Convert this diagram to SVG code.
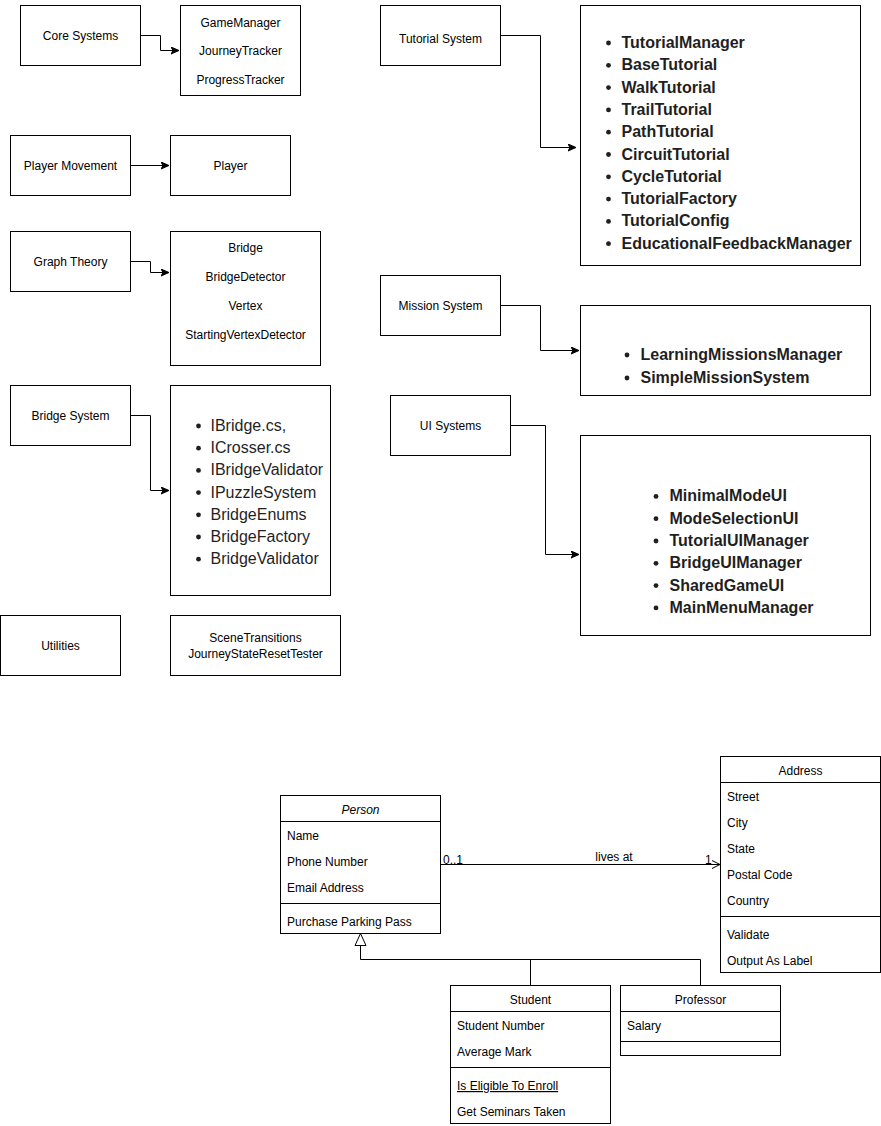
<svg xmlns="http://www.w3.org/2000/svg" width="881" height="1126" viewBox="0 0 881 1126">
<style>
  .box { fill: #ffffff; stroke: #000000; stroke-width: 1; }
  .ln { fill: none; stroke: #000000; stroke-width: 1; }
  .t { font-family: "Liberation Sans", Arial, Helvetica, sans-serif; font-size: 12px; fill: #000000; }
  .c { text-anchor: middle; }
  .li { font-family: "Liberation Sans", Arial, Helvetica, sans-serif; font-size: 16px; fill: #1f1f1f; }
  .lb { font-family: "Liberation Sans", Arial, Helvetica, sans-serif; font-size: 16px; font-weight: bold; fill: #1f1f1f; }
  .bul { fill: #1f1f1f; }
</style>
<defs>
  <marker id="arr" markerWidth="10" markerHeight="10" refX="8" refY="4" orient="auto" markerUnits="userSpaceOnUse">
    <path d="M0,0.5 L8,4 L0,7.5 L2,4 Z" fill="#000" stroke="#000" stroke-width="1"/>
  </marker>
  <marker id="open" markerWidth="12" markerHeight="12" refX="9" refY="5" orient="auto" markerUnits="userSpaceOnUse">
    <path d="M1,1 L9,5 L1,9" fill="none" stroke="#000" stroke-width="1"/>
  </marker>
</defs>

<g id="connectors">
  <path class="ln" d="M140.5,35.5 H160.5 V50.5 H179" marker-end="url(#arr)"/>
  <path class="ln" d="M130.5,165.5 H169" marker-end="url(#arr)"/>
  <path class="ln" d="M130.5,261.5 H150.5 V272.5 H169" marker-end="url(#arr)"/>
  <path class="ln" d="M130.5,415.5 H150.5 V490.5 H169" marker-end="url(#arr)"/>
  <path class="ln" d="M500.5,35.5 H540.5 V147.5 H576" marker-end="url(#arr)"/>
  <path class="ln" d="M500.5,305.5 H540.5 V350.5 H579" marker-end="url(#arr)"/>
  <path class="ln" d="M510.5,425.5 H545.5 V554.5 H579" marker-end="url(#arr)"/>
  <path class="ln" d="M440.5,864.5 H720" marker-end="url(#open)"/>
  <path class="ln" d="M360.5,945.5 V959.5 H700.5 V985.5 M530.5,959.5 V985.5"/>
  <path class="ln" d="M360.5,933.5 L366,945.5 H355 Z" fill="#fff"/>
  <text class="t" x="443" y="864">0..1</text>
  <text class="t" x="705" y="864">1</text>
  <text class="t c" x="614" y="861">lives at</text>
</g>

<g id="core-systems">
  <rect class="box" x="20.5" y="5.5" width="120" height="60"/>
  <text class="t c" x="80.5" y="40">Core Systems</text>
</g>
<g id="core-classes">
  <rect class="box" x="180.5" y="5.5" width="120" height="90"/>
  <text class="t c" x="240.5" y="27">GameManager</text>
  <text class="t c" x="240.5" y="55">JourneyTracker</text>
  <text class="t c" x="240.5" y="84">ProgressTracker</text>
</g>

<g id="player-movement">
  <rect class="box" x="10.5" y="135.5" width="120" height="60"/>
  <text class="t c" x="70.5" y="170">Player Movement</text>
</g>
<g id="player">
  <rect class="box" x="170.5" y="135.5" width="120" height="60"/>
  <text class="t c" x="230.5" y="170">Player</text>
</g>

<g id="graph-theory">
  <rect class="box" x="10.5" y="231.5" width="120" height="60"/>
  <text class="t c" x="70.5" y="266">Graph Theory</text>
</g>
<g id="graph-classes">
  <rect class="box" x="170.5" y="231.5" width="150" height="134"/>
  <text class="t c" x="245.5" y="252">Bridge</text>
  <text class="t c" x="245.5" y="281">BridgeDetector</text>
  <text class="t c" x="245.5" y="310">Vertex</text>
  <text class="t c" x="245.5" y="339">StartingVertexDetector</text>
</g>

<g id="bridge-system">
  <rect class="box" x="10.5" y="385.5" width="120" height="60"/>
  <text class="t c" x="70.5" y="420">Bridge System</text>
</g>
<g id="bridge-classes">
  <rect class="box" x="170.5" y="385.5" width="160" height="210"/>
  <circle class="bul" cx="198.5" cy="426" r="2.4"/>
  <circle class="bul" cx="198.5" cy="448.2" r="2.4"/>
  <circle class="bul" cx="198.5" cy="470.4" r="2.4"/>
  <circle class="bul" cx="198.5" cy="492.6" r="2.4"/>
  <circle class="bul" cx="198.5" cy="514.8" r="2.4"/>
  <circle class="bul" cx="198.5" cy="537" r="2.4"/>
  <circle class="bul" cx="198.5" cy="559.2" r="2.4"/>
  <text class="li" x="210.5" y="431">IBridge.cs,</text>
  <text class="li" x="210.5" y="453.2">ICrosser.cs</text>
  <text class="li" x="210.5" y="475.4">IBridgeValidator</text>
  <text class="li" x="210.5" y="497.6">IPuzzleSystem</text>
  <text class="li" x="210.5" y="519.8">BridgeEnums</text>
  <text class="li" x="210.5" y="542">BridgeFactory</text>
  <text class="li" x="210.5" y="564.2">BridgeValidator</text>
</g>

<g id="utilities">
  <rect class="box" x="0.5" y="615.5" width="120" height="60"/>
  <text class="t c" x="60.5" y="650">Utilities</text>
</g>
<g id="utility-classes">
  <rect class="box" x="170.5" y="615.5" width="170" height="60"/>
  <text class="t c" x="255.5" y="642">SceneTransitions</text>
  <text class="t c" x="255.5" y="658">JourneyStateResetTester</text>
</g>

<g id="tutorial-system">
  <rect class="box" x="380.5" y="5.5" width="120" height="60"/>
  <text class="t c" x="440.5" y="43">Tutorial System</text>
</g>
<g id="tutorial-classes">
  <rect class="box" x="580.5" y="5.5" width="280" height="260"/>
  <circle class="bul" cx="608.5" cy="43" r="2.4"/>
  <circle class="bul" cx="608.5" cy="65.3" r="2.4"/>
  <circle class="bul" cx="608.5" cy="87.6" r="2.4"/>
  <circle class="bul" cx="608.5" cy="109.9" r="2.4"/>
  <circle class="bul" cx="608.5" cy="132.2" r="2.4"/>
  <circle class="bul" cx="608.5" cy="154.5" r="2.4"/>
  <circle class="bul" cx="608.5" cy="176.8" r="2.4"/>
  <circle class="bul" cx="608.5" cy="199.1" r="2.4"/>
  <circle class="bul" cx="608.5" cy="221.4" r="2.4"/>
  <circle class="bul" cx="608.5" cy="243.7" r="2.4"/>
  <text class="lb" x="621.5" y="48">TutorialManager</text>
  <text class="lb" x="621.5" y="70.3">BaseTutorial</text>
  <text class="lb" x="621.5" y="92.6">WalkTutorial</text>
  <text class="lb" x="621.5" y="114.9">TrailTutorial</text>
  <text class="lb" x="621.5" y="137.2">PathTutorial</text>
  <text class="lb" x="621.5" y="159.5">CircuitTutorial</text>
  <text class="lb" x="621.5" y="181.8">CycleTutorial</text>
  <text class="lb" x="621.5" y="204.1">TutorialFactory</text>
  <text class="lb" x="621.5" y="226.4">TutorialConfig</text>
  <text class="lb" x="621.5" y="248.7">EducationalFeedbackManager</text>
</g>

<g id="mission-system">
  <rect class="box" x="380.5" y="275.5" width="120" height="60"/>
  <text class="t c" x="440.5" y="310">Mission System</text>
</g>
<g id="mission-classes">
  <rect class="box" x="580.5" y="305.5" width="290" height="90"/>
  <circle class="bul" cx="627" cy="355" r="2.4"/>
  <circle class="bul" cx="627" cy="378" r="2.4"/>
  <text class="lb" x="640.5" y="360">LearningMissionsManager</text>
  <text class="lb" x="640.5" y="383">SimpleMissionSystem</text>
</g>

<g id="ui-systems">
  <rect class="box" x="390.5" y="395.5" width="120" height="60"/>
  <text class="t c" x="450.5" y="430">UI Systems</text>
</g>
<g id="ui-classes">
  <rect class="box" x="580.5" y="435.5" width="290" height="200"/>
  <circle class="bul" cx="656" cy="496.4" r="2.4"/>
  <circle class="bul" cx="656" cy="518.7" r="2.4"/>
  <circle class="bul" cx="656" cy="541" r="2.4"/>
  <circle class="bul" cx="656" cy="563.3" r="2.4"/>
  <circle class="bul" cx="656" cy="585.6" r="2.4"/>
  <circle class="bul" cx="656" cy="607.9" r="2.4"/>
  <text class="lb" x="669.5" y="501.4">MinimalModeUI</text>
  <text class="lb" x="669.5" y="523.7">ModeSelectionUI</text>
  <text class="lb" x="669.5" y="546">TutorialUIManager</text>
  <text class="lb" x="669.5" y="568.3">BridgeUIManager</text>
  <text class="lb" x="669.5" y="590.6">SharedGameUI</text>
  <text class="lb" x="669.5" y="612.9">MainMenuManager</text>
</g>

<g id="person">
  <rect class="box" x="280.5" y="795.5" width="160" height="138"/>
  <path class="ln" d="M280.5,821.5 H440.5 M280.5,903.5 H440.5"/>
  <text class="t c" x="360.5" y="814" font-style="italic">Person</text>
  <text class="t" x="287" y="840">Name</text>
  <text class="t" x="287" y="866">Phone Number</text>
  <text class="t" x="287" y="892">Email Address</text>
  <text class="t" x="287" y="926">Purchase Parking Pass</text>
</g>

<g id="address">
  <rect class="box" x="720.5" y="756.5" width="160" height="216"/>
  <path class="ln" d="M720.5,782.5 H880.5 M720.5,916.5 H880.5"/>
  <text class="t c" x="800.5" y="775">Address</text>
  <text class="t" x="727" y="801">Street</text>
  <text class="t" x="727" y="827">City</text>
  <text class="t" x="727" y="853">State</text>
  <text class="t" x="727" y="879">Postal Code</text>
  <text class="t" x="727" y="905">Country</text>
  <text class="t" x="727" y="939">Validate</text>
  <text class="t" x="727" y="965">Output As Label</text>
</g>

<g id="student">
  <rect class="box" x="450.5" y="985.5" width="160" height="138"/>
  <path class="ln" d="M450.5,1011.5 H610.5 M450.5,1067.5 H610.5"/>
  <text class="t c" x="530.5" y="1004">Student</text>
  <text class="t" x="457" y="1030">Student Number</text>
  <text class="t" x="457" y="1056">Average Mark</text>
  <text class="t" x="457" y="1090" text-decoration="underline">Is Eligible To Enroll</text>
  <text class="t" x="457" y="1116">Get Seminars Taken</text>
</g>

<g id="professor">
  <rect class="box" x="620.5" y="985.5" width="160" height="70"/>
  <path class="ln" d="M620.5,1011.5 H780.5 M620.5,1041.5 H780.5"/>
  <text class="t c" x="700.5" y="1004">Professor</text>
  <text class="t" x="627" y="1030">Salary</text>
</g>
</svg>
